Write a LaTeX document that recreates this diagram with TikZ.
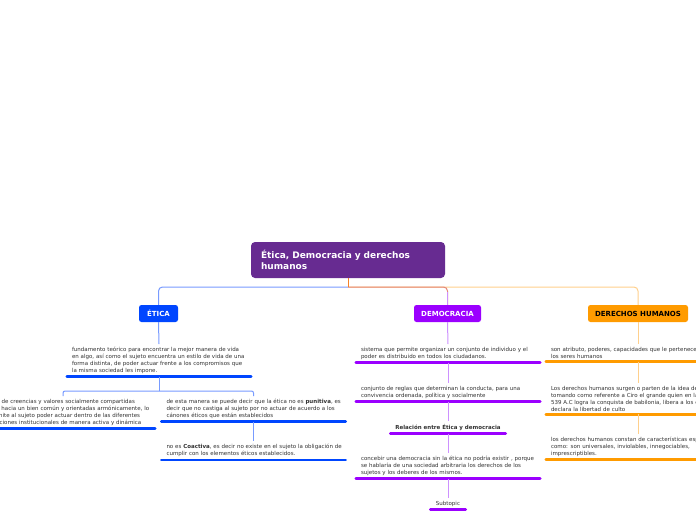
\documentclass[tikz,border=0pt]{standalone}
\usepackage{fontspec}
\setmainfont{DejaVu Sans}
\definecolor{maincol}{RGB}{103,43,145}
\definecolor{eticacol}{RGB}{0,70,255}
\definecolor{democol}{RGB}{155,0,255}
\definecolor{dhcol}{RGB}{255,155,0}
\definecolor{eline}{RGB}{120,155,255}
\definecolor{dline}{RGB}{205,145,255}
\definecolor{hline}{RGB}{255,208,140}
\definecolor{salmon}{RGB}{228,135,120}
\definecolor{mainline}{RGB}{245,130,40}
\definecolor{txtcol}{RGB}{50,50,50}
\begin{document}
\begin{tikzpicture}[x=1pt,y={(0,-1pt)},
  mainbox/.style={fill=maincol, rounded corners=4pt, text=white, font=\fontsize{9}{11}\selectfont\bfseries, text width=174pt, inner xsep=10pt, align=left, minimum height=36pt, minimum width=194pt},
  topic/.style={rounded corners=2.5pt, minimum height=17pt, inner sep=0pt, font=\fontsize{7}{8}\selectfont\bfseries},
  blk/.style={anchor=north, text width=174pt, inner xsep=5pt, inner ysep=3pt, align=left, font=\fontsize{5.5}{6.9}\selectfont, text=txtcol},
  nblk/.style={anchor=north, inner xsep=0pt, inner ysep=3pt, align=center, font=\fontsize{5.5}{6.9}\selectfont, text=txtcol},
  conn/.style={line width=1pt},
  ul/.style={line width=2.6pt, line cap=round}
]
\useasboundingbox (0,0) rectangle (696,520);
\clip (0,0) rectangle (696,520);
\fill[white] (0,0) rectangle (696,520);

% main
\node[mainbox] (main) at (348,260) {Ética, Democracia y derechos\\humanos};

% topics
\node[topic, fill=eticacol, text=white, minimum width=39pt] (etica) at (158.5,313.5) {ÉTICA};
\node[topic, fill=democol, text=white, minimum width=67pt] (demo) at (447.5,313.5) {DEMOCRACIA};
\node[topic, fill=dhcol, text=black, minimum width=100pt] (dh) at (638,313.5) {DERECHOS HUMANOS};

% top connectors
\coordinate (j) at (348,287);
\draw[conn, hline, rounded corners=4pt] (j) -| (dh.north);
\draw[conn, salmon, rounded corners=4pt] (j) -| (demo.north);
\draw[conn, dline] (demo.north) -- ++(0,-13);
\draw[conn, eline, rounded corners=4pt] (j) -| (etica.north);
\draw[conn, mainline] (main.south) -- (j);

% ETICA subtree
\node[blk] (e1) at (159,344) {fundamento teórico para encontrar la mejor manera de vida\\en algo, así como el sujeto encuentra un estilo de vida de una\\forma distinta, de poder actuar frente a los compromisos que\\la misma sociedad les impone.};
\node[blk] (el) at (63,396) {conjunto de creencias y valores socialmente compartidas\\dirigidas hacia un bien común y orientadas armónicamente, lo\\que permite al sujeto poder actuar dentro de las diferentes\\organizaciones institucionales de manera activa y dinámica};
\node[blk] (e2) at (253.5,396) {\mbox{de esta manera se puede decir que la ética no es \textbf{punitiva}, es}\\decir que no castiga al sujeto por no actuar de acuerdo a los\\cánones éticos que están establecidos};
\node[blk] (e3) at (253.5,441) {\mbox{no es \textbf{Coactiva}, es decir no existe en el sujeto la obligación de}\\cumplir con los elementos éticos establecidos.};
\foreach \n in {e1,el,e2,e3} \draw[ul, eticacol] (\n.south west) -- (\n.south east);
\draw[conn, eline] (etica.south) -- (e1.north);
\coordinate (eb) at (159,391);
\draw[conn, eline] (e1.south) -- (eb);
\draw[conn, eline, rounded corners=2pt] (eb) -| (el.north);
\draw[conn, eline, rounded corners=2pt] (eb) -| (e2.north);
\draw[conn, eline] (e2.south) -- (e3.north);

% DEMOCRACIA subtree
\node[blk] (d1) at (448,344) {sistema que permite organizar un conjunto de individuo y el\\poder es distribuido en todos los ciudadanos.};
\node[blk] (d2) at (448,383) {conjunto de reglas que determinan la conducta, para una\\convivencia ordenada, política y socialmente};
\node[nblk, minimum width=115pt, font=\fontsize{5.5}{6.9}\selectfont\bfseries] (d3) at (448,421) {Relación entre Ética y democracia};
\node[blk] (d4) at (448,453) {concebir una democracia sin la ética no podría existir , porque\\se hablaría de una sociedad arbitraria los derechos de los\\sujetos y los deberes de los mismos.};
\node[nblk, minimum width=35pt] (d5) at (448,498) {Subtopic};
\foreach \n in {d1,d2,d3,d4,d5} \draw[ul, democol] (\n.south west) -- (\n.south east);
\draw[conn, dline] (demo.south) -- (d1.north);
\draw[conn, dline] (d1.south) -- (d2.north);
\draw[conn, dline] (d2.south) -- (d3.north);
\draw[conn, dline] (d3.south) -- (d4.north);
\draw[conn, dline] (d4.south) -- (d5.north);

% DERECHOS HUMANOS subtree
\node[blk] (h1) at (638,344) {son atributo, poderes, capacidades que le pertenecen a\\los seres humanos};
\node[blk] (h2) at (638,383) {Los derechos humanos surgen o parten de la idea de dignidad\\tomando como referente a Ciro el grande quien en la época\\539 A.C logra la conquista de babilonia, libera a los esclavos\\declara la libertad de culto};
\node[blk] (h3) at (638,434) {los derechos humanos constan de características especiales\\como: son universales, inviolables, innegociables,\\imprescriptibles.};
\foreach \n in {h1,h2,h3} \draw[ul, dhcol] (\n.south west) -- (\n.south east);
\draw[conn, hline] (dh.south) -- (h1.north);
\draw[conn, hline] (h1.south) -- (h2.north);
\draw[conn, hline] (h2.south) -- (h3.north);
\end{tikzpicture}
\end{document}
